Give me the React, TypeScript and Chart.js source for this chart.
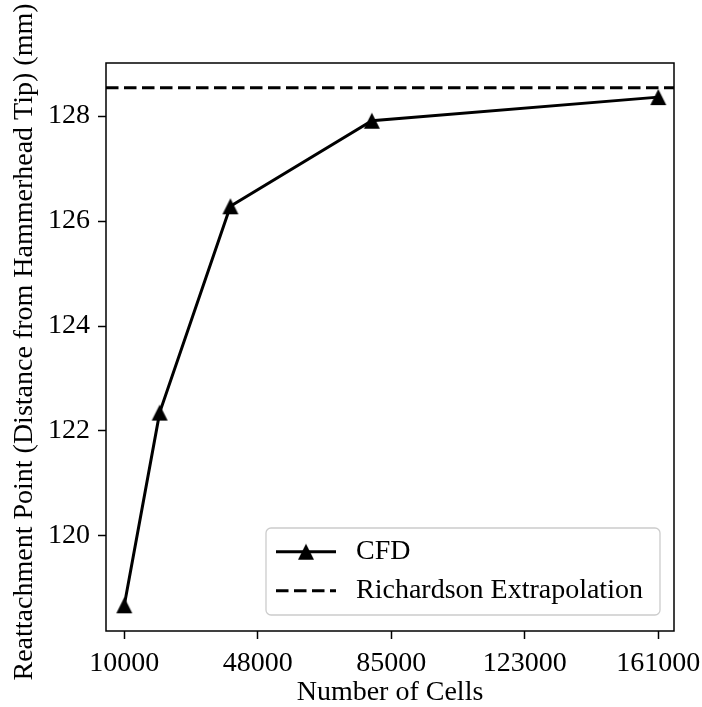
import React, { useEffect, useRef } from 'react';
import { Chart, registerables } from 'chart.js';

Chart.register(...registerables);

const cellCounts = [10000, 20000, 40000, 80000, 161000];
const reattachment = [118.68, 122.35, 126.28, 127.91, 128.36];
const richardsonValue = 128.54;
const xTickValues = [10000, 47750, 85500, 123250, 161000];
const xTickLabels = ['10000', '48000', '85000', '123000', '161000'];
const yTickValues = [120, 122, 124, 126, 128];
const xRange = [4825, 165440];
const yRange = [118.19, 129.01];
const seriesLabels = ['CFD', 'Richardson Extrapolation'];
const xTitle = 'Number of Cells';
const yTitle = 'Reattachment Point (Distance from Hammerhead Tip) (mm)';

const FONT = '"Liberation Serif", "Times New Roman", Times, serif';
const FS = 28;

function makeTriangle(): HTMLCanvasElement {
  const c = document.createElement('canvas');
  c.width = 18;
  c.height = 18;
  const g = c.getContext('2d')!;
  g.fillStyle = '#000';
  g.beginPath();
  g.moveTo(9, 1);
  g.lineTo(17, 17);
  g.lineTo(1, 17);
  g.closePath();
  g.fill();
  return c;
}

export default function App() {
  const ref = useRef<HTMLCanvasElement | null>(null);

  useEffect(() => {
    if (!ref.current) return;
    const tri = makeTriangle();

    const decor = {
      id: 'decor',
      afterDraw(chart: any) {
        const ctx = chart.ctx as CanvasRenderingContext2D;
        const ca = chart.chartArea;
        ctx.save();
        // frame
        ctx.strokeStyle = '#000';
        ctx.lineWidth = 1.5;
        ctx.strokeRect(ca.left, ca.top, ca.right - ca.left, ca.bottom - ca.top);

        ctx.fillStyle = '#000';
        ctx.font = `${FS}px ${FONT}`;
        ctx.textAlign = 'center';
        ctx.textBaseline = 'middle';
        // x title
        ctx.fillText(xTitle, (ca.left + ca.right) / 2, ca.bottom + 62);
        // y title
        ctx.save();
        ctx.translate(25, (ca.top + ca.bottom) / 2 - 5);
        ctx.rotate(-Math.PI / 2);
        ctx.fillText(yTitle, 0, 0);
        ctx.restore();

        // legend
        const L = ca.left + 160;
        const R = ca.right - 14;
        const T = ca.top + 465;
        const B = ca.bottom - 16;
        const r = 5;
        ctx.beginPath();
        ctx.moveTo(L + r, T);
        ctx.lineTo(R - r, T);
        ctx.arcTo(R, T, R, T + r, r);
        ctx.lineTo(R, B - r);
        ctx.arcTo(R, B, R - r, B, r);
        ctx.lineTo(L + r, B);
        ctx.arcTo(L, B, L, B - r, r);
        ctx.lineTo(L, T + r);
        ctx.arcTo(L, T, L + r, T, r);
        ctx.closePath();
        ctx.fillStyle = 'rgba(255,255,255,0.8)';
        ctx.fill();
        ctx.strokeStyle = '#cccccc';
        ctx.lineWidth = 1.3;
        ctx.stroke();

        const y1 = T + 23.7;
        const y2 = T + 62.7;
        const hx0 = L + 10;
        const hx1 = L + 70;
        ctx.strokeStyle = '#000';
        ctx.lineWidth = 3;
        ctx.beginPath();
        ctx.moveTo(hx0, y1);
        ctx.lineTo(hx1, y1);
        ctx.stroke();
        ctx.drawImage(tri, (hx0 + hx1) / 2 - 9, y1 - 9);
        ctx.setLineDash([12.5, 5.5]);
        ctx.beginPath();
        ctx.moveTo(hx0, y2);
        ctx.lineTo(hx1, y2);
        ctx.stroke();
        ctx.setLineDash([]);

        ctx.fillStyle = '#000';
        ctx.textAlign = 'left';
        ctx.fillText(seriesLabels[0], L + 90, y1);
        ctx.fillText(seriesLabels[1], L + 90, y2);
        ctx.restore();
      },
    };

    const chart = new Chart(ref.current, {
      type: 'line',
      data: {
        datasets: [
          {
            label: seriesLabels[0],
            data: cellCounts.map((x, i) => ({ x, y: reattachment[i] })),
            borderColor: '#000',
            backgroundColor: '#000',
            borderWidth: 3,
            pointStyle: tri as any,
            pointRadius: 8,
            tension: 0,
            fill: false,
          },
          {
            label: seriesLabels[1],
            data: [
              { x: xRange[0], y: richardsonValue },
              { x: xRange[1], y: richardsonValue },
            ],
            borderColor: '#000',
            borderWidth: 3,
            borderDash: [12.5, 5.5],
            pointRadius: 0,
            fill: false,
          },
        ],
      },
      options: {
        animation: false,
        responsive: false,
        devicePixelRatio: 1,
        layout: { padding: { top: 63, right: 28, left: 0, bottom: 0 } },
        plugins: {
          legend: { display: false },
          tooltip: { enabled: false },
          title: { display: false },
        },
        events: [],
        scales: {
          x: {
            type: 'linear',
            min: xRange[0],
            max: xRange[1],
            afterFit(scale: any) {
              scale.height = 76;
              scale.paddingLeft = 0;
              scale.paddingRight = 0;
            },
            afterBuildTicks(scale: any) {
              scale.ticks = xTickValues.map((v) => ({ value: v }));
            },
            ticks: {
              autoSkip: false,
              maxRotation: 0,
              padding: 8,
              color: '#000',
              font: { family: FONT, size: FS },
              callback: (_v: any, i: number) => xTickLabels[i],
            },
            grid: {
              drawOnChartArea: false,
              drawTicks: true,
              tickLength: 8,
              tickColor: '#000',
              tickWidth: 1.5,
            },
            border: { display: false },
          },
          y: {
            type: 'linear',
            min: yRange[0],
            max: yRange[1],
            afterFit(scale: any) {
              scale.width = 106;
              scale.paddingTop = 0;
              scale.paddingBottom = 0;
            },
            afterBuildTicks(scale: any) {
              scale.ticks = yTickValues.map((v) => ({ value: v }));
            },
            ticks: {
              autoSkip: false,
              padding: 8,
              color: '#000',
              font: { family: FONT, size: FS },
              callback: (v: any) => String(v),
            },
            grid: {
              drawOnChartArea: false,
              drawTicks: true,
              tickLength: 8,
              tickColor: '#000',
              tickWidth: 1.5,
            },
            border: { display: false },
          },
        },
      },
      plugins: [decor],
    });

    return () => chart.destroy();
  }, []);

  return (
    <div style={{ position: 'fixed', left: 0, top: 0, width: 702, height: 707, background: '#fff' }}>
      <canvas ref={ref} width={702} height={707} style={{ width: 702, height: 707, display: 'block' }} />
    </div>
  );
}
